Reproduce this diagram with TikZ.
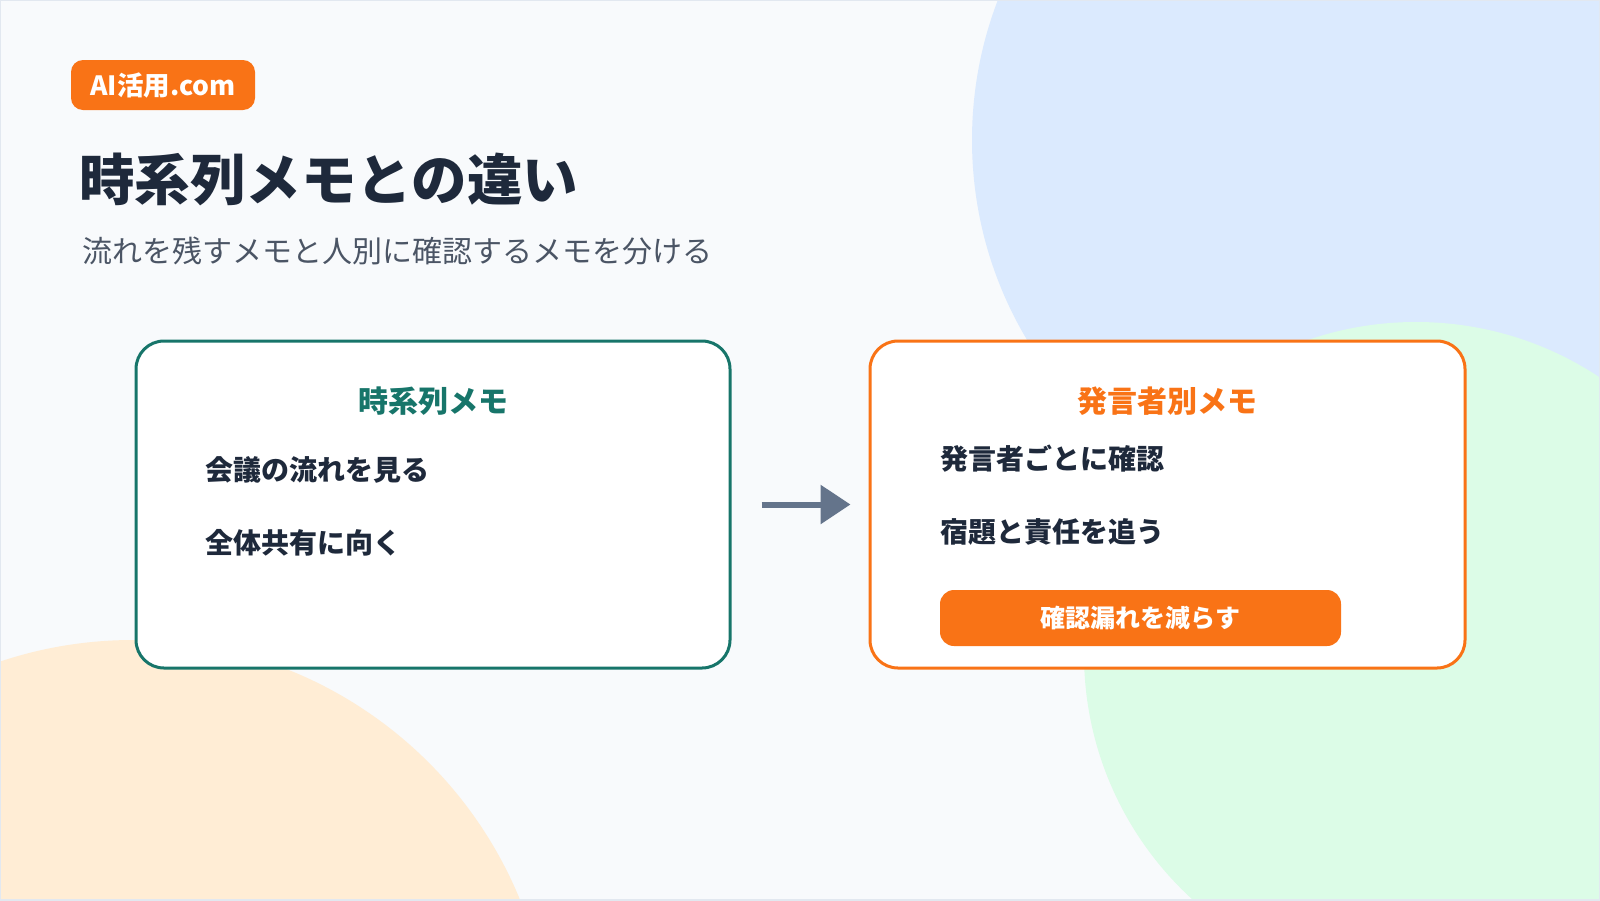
\documentclass[tikz,border=0pt]{standalone}
\usepackage{fontspec}
\setmainfont{Noto Sans CJK JP}
\usetikzlibrary{arrows.meta}
\definecolor{bgc}{HTML}{F8FAFC}
\definecolor{blueblob}{HTML}{DBEAFE}
\definecolor{greenblob}{HTML}{DCFCE7}
\definecolor{peachblob}{HTML}{FFEDD5}
\definecolor{tealc}{HTML}{17756A}
\definecolor{orangec}{HTML}{F97316}
\definecolor{inkc}{HTML}{1E293B}
\definecolor{subc}{HTML}{4B5565}
\definecolor{arrowc}{HTML}{64748B}
\definecolor{framec}{HTML}{E2E8F0}
\tikzset{
  memobox/.style={rectangle, rounded corners=28pt, fill=white, line width=3pt,
    minimum width=594pt, minimum height=327pt, inner sep=0pt},
  boxhead/.style={inner sep=0pt, font=\fontsize{30}{34}\selectfont\bfseries},
  item/.style={inner sep=0pt, anchor=west, text=inkc, font=\fontsize{28}{32}\selectfont\bfseries},
  pill/.style={rectangle, fill=orangec, text=white, inner sep=0pt},
  flow/.style={draw=arrowc, line width=6pt, -{Triangle[length=30pt,width=38pt]}}
}
\begin{document}
\begin{tikzpicture}[x=1pt,y=-1pt]
\useasboundingbox (0,0) rectangle (1600,900);
\fill[bgc] (0,0) rectangle (1600,900);
\begin{scope}
\clip (0,0) rectangle (1600,900);
\fill[blueblob] (1362,140) circle[radius=390];
\fill[greenblob] (1416,654) circle[radius=332];
\fill[peachblob] (133,1058) circle[radius=418];
\end{scope}
\draw[framec, line width=2pt] (0,0) rectangle (1600,900);

% badge
\node[pill, rounded corners=12pt, minimum width=184pt, minimum height=50pt,
  font=\fontsize{26.5}{30}\selectfont\bfseries] (badge) at (163,85) {AI活用.com};

% title and subtitle
\node[inner sep=0pt, anchor=west, text=inkc, font=\fontsize{55.5}{60}\selectfont\bfseries]
  (title) at (79,179) {時系列メモとの違い};
\node[inner sep=0pt, anchor=west, text=subc, font=\fontsize{30}{34}\selectfont]
  (subtitle) at (82,251) {流れを残すメモと人別に確認するメモを分ける};

% left box
\node[memobox, draw=tealc] (left) at (433,504.5) {};
\node[boxhead, text=tealc] (lhead) at (433,401) {時系列メモ};
\node[item] (l1) at (205,470) {会議の流れを見る};
\node[item] (l2) at (205,543) {全体共有に向く};

% right box
\node[memobox, draw=orangec, minimum width=595pt] (right) at (1167.5,504.5) {};
\node[boxhead, text=orangec] (rhead) at (1167,401) {発言者別メモ};
\node[item] (r1) at (940,459) {発言者ごとに確認};
\node[item] (r2) at (940,532) {宿題と責任を追う};
\node[pill, rounded corners=14pt, minimum width=401pt, minimum height=56pt,
  font=\fontsize{25}{30}\selectfont\bfseries] (btn) at (1140.5,618) {確認漏れを減らす};

% arrow
\draw[flow, shorten <=30pt, shorten >=18pt] (left.east) -- (right.west);
\end{tikzpicture}
\end{document}
